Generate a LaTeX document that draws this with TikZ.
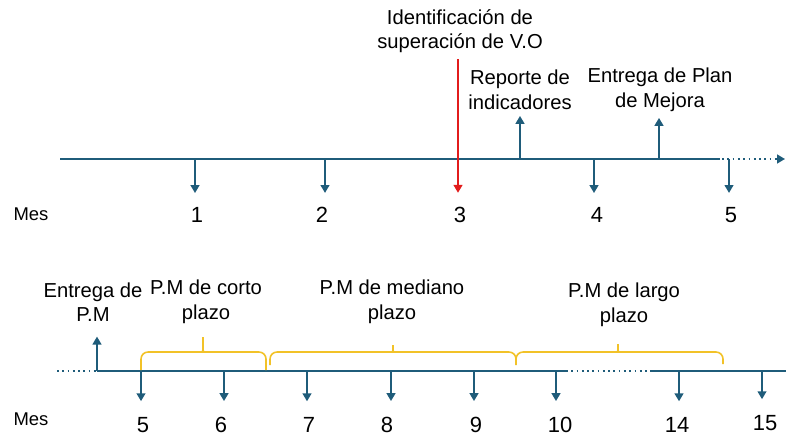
\documentclass[tikz,border=0pt]{standalone}
\usepackage{fontspec}
\setmainfont{Liberation Sans}
\usetikzlibrary{arrows.meta}
\definecolor{linea}{RGB}{31,92,122}
\definecolor{llave}{RGB}{242,194,40}
\definecolor{rojo}{RGB}{226,28,28}

\begin{document}
\begin{tikzpicture}[
  x=0.02cm, y=-0.02cm,
  align=center,
  eje/.style={draw=linea, line width=1pt},
  flecha/.style={draw=linea, line width=1pt, -{Triangle[width=5pt,length=4.5pt]}},
  texto/.style={font=\fontsize{11.5}{14}\selectfont},
  num/.style={font=\fontsize{12.5}{14}\selectfont, inner sep=1pt},
  mes/.style={font=\fontsize{10.5}{12}\selectfont},
  llaves/.style={draw=llave, line width=0.9pt, rounded corners=4pt}]
\useasboundingbox (0,0) rectangle (786,435);

%% primera linea de tiempo
\coordinate (ini) at (60,159);
\coordinate (fin) at (720,159);
\coordinate (pt) at (680,159);
\coordinate (ft) at (785,159);
\draw[eje] (ini) -- (fin);
\draw[flecha, dotted] (pt) -- (ft);

\node[mes] (mes1) at (31,214) {Mes};
\node[num] (n1) at (197,215) {1};
\node[num] (n2) at (322,215) {2};
\node[num] (n3) at (460,215) {3};
\node[num] (n4) at (597,215) {4};
\node[num] (n5) at (731,215) {5};

\coordinate (p1) at (195,159);
\coordinate (p2) at (325,159);
\coordinate (p3) at (458,159);
\coordinate (p4) at (594,159);
\coordinate (p5) at (729,159);
\draw[flecha, shorten >=7pt] (p1) -- (p1 |- n1.north);
\draw[flecha, shorten >=7pt] (p2) -- (p2 |- n2.north);
\draw[flecha, shorten >=7pt] (p4) -- (p4 |- n4.north);
\draw[flecha, shorten >=7pt] (p5) -- (p5 |- n5.north);

\node[texto] (ident) at (460,31) {Identificación de\\superación de V.O};
\draw[flecha, draw=rojo, shorten >=7pt] (ident.south -| p3) -- (p3 |- n3.north);

\node[texto] (rep) at (520,90) {Reporte de\\indicadores};
\node[texto] (plan) at (660,90) {Entrega de Plan\\de Mejora};
\coordinate (r1) at (520,159);
\coordinate (r2) at (659,159);
\draw[flecha] (r1) -- (r1 |- rep.south);
\draw[flecha] (r2) -- (r2 |- plan.south);

%% segunda linea de tiempo
\coordinate (a) at (57,371);
\coordinate (b) at (97,371);
\coordinate (c) at (566,371);
\coordinate (d) at (652,371);
\coordinate (e) at (786,371);
\draw[eje, dotted] (a) -- (b);
\draw[eje] (b) -- (c);
\draw[eje, dotted] (c) -- (d);
\draw[eje] (d) -- (e);

\node[mes] (mes2) at (31,419) {Mes};
\node[num] (m5) at (143,425) {5};
\node[num] (m6) at (221,425) {6};
\node[num] (m7) at (309,425) {7};
\node[num] (m8) at (387,425) {8};
\node[num] (m9) at (476,425) {9};
\node[num] (m10) at (560,425) {10};
\node[num] (m14) at (677,425) {14};
\node[num] (m15) at (765,423) {15};

\coordinate (q5) at (141,371);
\coordinate (q6) at (224,371);
\coordinate (q7) at (307,371);
\coordinate (q8) at (391,371);
\coordinate (q9) at (474,371);
\coordinate (q10) at (556,371);
\coordinate (q14) at (679,371);
\coordinate (q15) at (762,371);
\draw[flecha, shorten >=8pt] (q5) -- (q5 |- m5.north);
\draw[flecha, shorten >=8pt] (q6) -- (q6 |- m6.north);
\draw[flecha, shorten >=8pt] (q7) -- (q7 |- m7.north);
\draw[flecha, shorten >=8pt] (q8) -- (q8 |- m8.north);
\draw[flecha, shorten >=8pt] (q9) -- (q9 |- m9.north);
\draw[flecha, shorten >=8pt] (q10) -- (q10 |- m10.north);
\draw[flecha, shorten >=8pt] (q14) -- (q14 |- m14.north);
\draw[flecha, shorten >=8pt] (q15) -- (q15 |- m15.north);

\node[texto] (pm) at (93,302) {Entrega de\\P.M};
\draw[flecha, shorten >=5pt] (b) -- (b |- pm.south);

%% plazos
\node[texto] (corto) at (206,302) {P.M de corto\\plazo};
\node[texto] (mediano) at (392,302) {P.M de mediano\\plazo};
\node[texto] (largo) at (624,305) {P.M de largo\\plazo};
\draw[llaves] (141,370) -- (141,352) -- (197,352)
  .. controls (203,352) .. (203,333) .. controls (203,352) .. (209,352)
  -- (266,352) -- (266,370);
\draw[llaves] (270,365) -- (270,352) -- (388,352)
  .. controls (393,352) .. (393,341) .. controls (393,352) .. (398,352)
  -- (516,352) -- (516,365);
\draw[llaves] (516,363) -- (516,352) -- (613,352)
  .. controls (618,352) .. (618,340) .. controls (618,352) .. (623,352)
  -- (723,352) -- (723,364);
\end{tikzpicture}
\end{document}
